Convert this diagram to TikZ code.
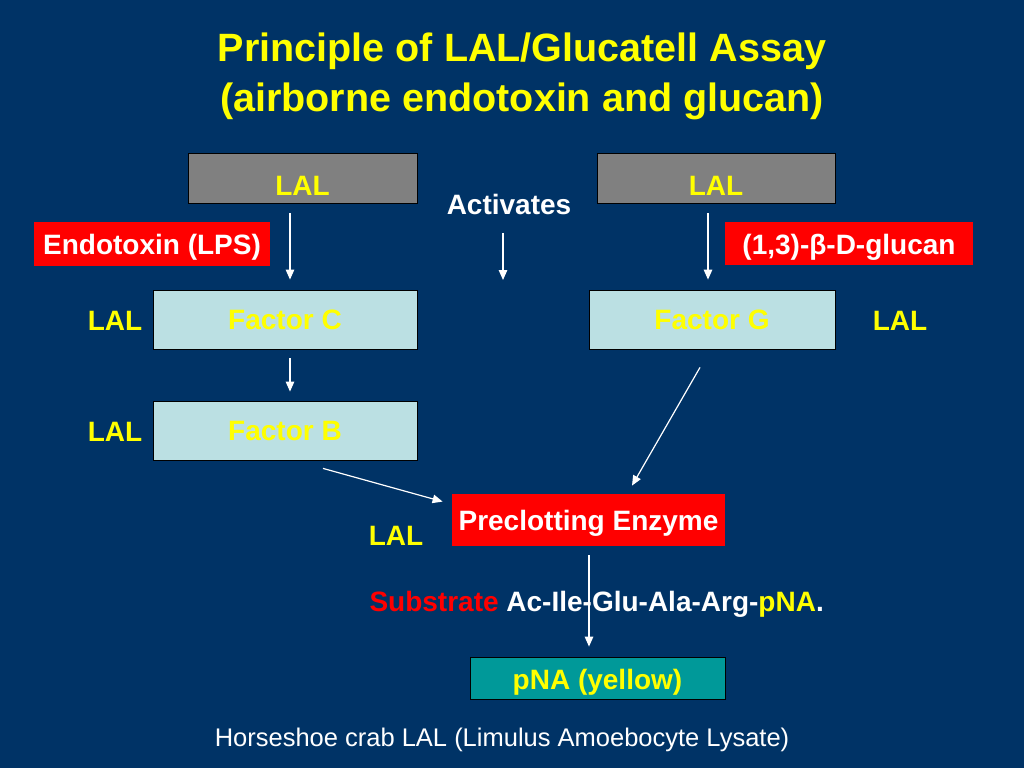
\documentclass[tikz,border=0pt]{standalone}
\usepackage{fontspec}
\setmainfont{Liberation Sans}
\usetikzlibrary{arrows.meta,calc}
\definecolor{bg}{HTML}{003366}
\definecolor{boxgray}{HTML}{808080}
\definecolor{lblue}{HTML}{BBE0E3}
\definecolor{teal2}{HTML}{009999}
\definecolor{red2}{HTML}{FF0000}
\definecolor{yel}{HTML}{FFFF00}
\begin{document}
\begin{tikzpicture}[x=1pt,y=-1pt,
  lbl/.style={font=\fontsize{28}{32}\selectfont\bfseries},
  box/.style={lbl, inner sep=0pt, line width=0.8pt},
  graybox/.style={box, draw=black, fill=boxgray, text=yel, minimum height=50pt, text height=34pt, text depth=0pt},
  redbox/.style={box, fill=red2, text=white, text height=21pt, text depth=0pt},
  bluebox/.style={box, draw=black, fill=lblue, text=yel, minimum height=59pt},
  tealbox/.style={box, draw=black, fill=teal2, text=yel, text height=22pt, text depth=0pt},
  ylbl/.style={lbl, text=yel},
  arr/.style={draw=white, line width=1.2pt, -{Triangle[length=10pt,width=8.5pt]}}
]
\fill[bg] (0,0) rectangle (1024,768);
\useasboundingbox (0,0) rectangle (1024,768);

% title
\node[font=\fontsize{39.5}{50}\selectfont\bfseries, text=yel, align=center] (title) at (522,76)
  {Principle of LAL/Glucatell Assay\\(airborne endotoxin and glucan)};

% top row
\node[graybox, minimum width=229pt] (lalL) at (302.5,178) {LAL};
\node[graybox, minimum width=238pt] (lalR) at (716,178) {LAL};
\node[lbl, text=white] (act) at (509,204) {Activates};
\node[redbox, minimum width=236pt, minimum height=44pt] (endo) at (152,244) {Endotoxin (LPS)};
\node[redbox, minimum width=248pt, minimum height=43pt] (gluc) at (849,243.5) {(1,3)-β-D-glucan};

% factors
\node[bluebox, minimum width=264pt] (fC) at (285,319.5) {Factor C};
\node[bluebox, minimum width=246pt] (fG) at (712,319.5) {Factor G};
\node[bluebox, minimum width=264pt] (fB) at (285,430.5) {Factor B};
\node[ylbl] (lalC) at (115,321) {LAL};
\node[ylbl] (lalG) at (900,321) {LAL};
\node[ylbl] (lalB) at (115,432) {LAL};

% enzyme
\node[redbox, minimum width=273pt, minimum height=52pt] (pre) at (588.5,520) {Preclotting Enzyme};
\node[ylbl] (lalP) at (396,536) {LAL};

\node[lbl, anchor=west, text=white] (sub) at (366,604)
  {\textcolor{red2}{Substrate} Ac-Ile-Glu-Ala-Arg-\textcolor{yel}{pNA}.};

\node[tealbox, minimum width=255pt, minimum height=42pt] (pna) at (597.5,678) {pNA (yellow)};

\node[font=\fontsize{25.5}{30}\selectfont, text=white] (foot) at (502,740)
  {Horseshoe crab LAL (Limulus Amoebocyte Lysate)};

% arrows
\coordinate (xL) at (290,0);
\coordinate (xM) at (503,0);
\coordinate (xR) at (708,0);
\coordinate (xP) at (589,0);
\coordinate (actEnd) at (503,280);
\draw[arr, shorten <=10pt, shorten >=10pt] (lalL.south -| xL) -- (fC.north -| xL);
\draw[arr, shorten <=15pt] (act.south -| xM) -- (actEnd);
\draw[arr, shorten <=10pt, shorten >=10pt] (lalR.south -| xR) -- (fG.north -| xR);
\draw[arr, shorten <=9pt, shorten >=9pt] (fC.south -| xL) -- (fB.north -| xL);
\draw[arr] ($(fB.south)+(38,8)$) -- ($(pre.north west)+(-9,8)$);
\draw[arr] ($(fG.south)+(-12,18)$) -- ($(pre.north)+(43.5,-8)$);
\draw[arr, shorten <=9pt, shorten >=10pt] (pre.south -| xP) -- (pna.north -| xP);
\end{tikzpicture}
\end{document}
